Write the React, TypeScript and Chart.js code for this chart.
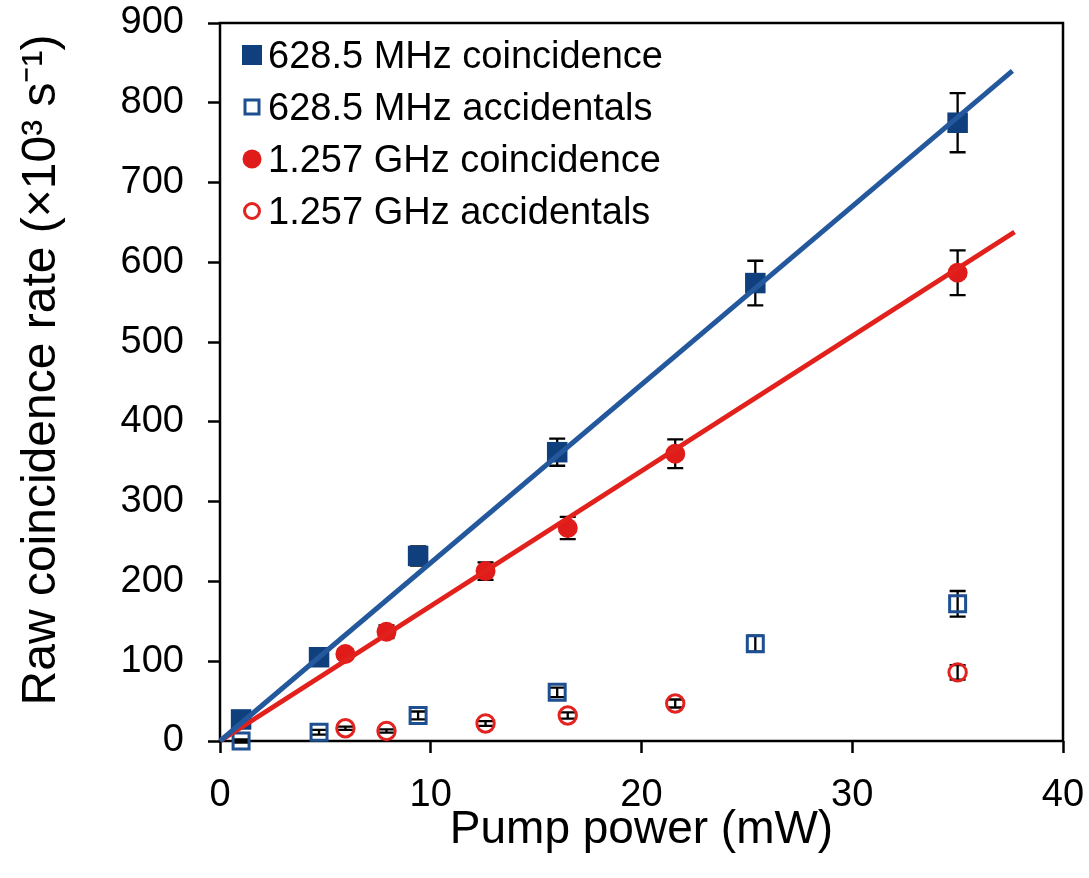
import React, { useEffect, useRef } from 'react';
import { Chart, registerables } from 'chart.js';

Chart.register(...registerables);

// ---- data ----
const xMHz = [1.0, 4.7, 9.4, 16.0, 25.4, 35.0];
const coinMHz = [27, 105, 232, 362, 574, 775];
const coinMHzErr = [3, 6, 12, 17, 28, 37];
const accMHz = [0, 11, 32, 61, 122, 172];
const accMHzErr = [2, 3, 5, 6, 10, 16];

const xGHz = [5.95, 7.9, 12.6, 16.5, 21.6, 35.0];
const coinGHz = [109, 137, 213, 267, 360, 587];
const coinGHzErr = [6, 8, 11, 14, 18, 28];
const accGHz = [16, 12.5, 22, 32, 47, 86];
const accGHzErr = [2, 2, 3, 4, 5, 9];

const fitMHzX = [0, 37.6];
const fitMHzY = [0, 840];
const fitGHzX = [0, 37.7];
const fitGHzY = [0, 638];

const seriesNames = [
  '628.5 MHz coincidence',
  '628.5 MHz accidentals',
  '1.257 GHz coincidence',
  '1.257 GHz accidentals',
];

const xTicks = [0, 10, 20, 30, 40];
const yTicks = [0, 100, 200, 300, 400, 500, 600, 700, 800, 900];

const xTitle = 'Pump power (mW)';
const yTitle = 'Raw coincidence rate (×10³ s⁻¹)';

// ---- styles ----
const BLUE_FILL = '#0f3f7d';
const BLUE_LINE = '#24589c';
const BLUE_OPEN = '#1d4f91';
const RED_FILL = '#df1c1a';
const RED_LINE = '#e2211d';
const RED_OPEN = '#e2231f';
const FONT = '"Liberation Sans", Arial, sans-serif';

const pts = (xs: number[], ys: number[]) => xs.map((x, i) => ({ x, y: ys[i] }));

const errorBarPlugin = {
  id: 'errorBars',
  beforeDatasetsDraw(chart: any) {
    const ctx = chart.ctx;
    const ys = chart.scales.y;
    ctx.save();
    ctx.strokeStyle = '#000';
    ctx.lineWidth = 2.3;
    chart.data.datasets.forEach((ds: any, di: number) => {
      if (!ds.errors) return;
      const meta = chart.getDatasetMeta(di);
      meta.data.forEach((el: any, i: number) => {
        const v = ds.data[i].y;
        const e = ds.errors[i];
        const x = el.x;
        const y1 = ys.getPixelForValue(v + e);
        const y2 = ys.getPixelForValue(v - e);
        ctx.beginPath();
        ctx.moveTo(x, y1);
        ctx.lineTo(x, y2);
        ctx.moveTo(x - 8, y1);
        ctx.lineTo(x + 8, y1);
        ctx.moveTo(x - 8, y2);
        ctx.lineTo(x + 8, y2);
        ctx.stroke();
      });
    });
    ctx.restore();
  },
};

const boxPlugin = {
  id: 'frameBox',
  beforeDatasetsDraw(chart: any) {
    const { ctx, chartArea: a } = chart;
    ctx.save();
    ctx.strokeStyle = '#000';
    ctx.lineWidth = 2.5;
    ctx.strokeRect(a.left, a.top, a.right - a.left, a.bottom - a.top);
    ctx.restore();
  },
};

const yTitlePlugin = {
  id: 'yTitleText',
  afterDraw(chart: any) {
    const ctx = chart.ctx;
    ctx.save();
    ctx.translate(42, 370);
    ctx.rotate(-Math.PI / 2);
    ctx.fillStyle = '#000';
    ctx.font = `48px ${FONT}`;
    ctx.textAlign = 'center';
    ctx.textBaseline = 'middle';
    ctx.fillText(yTitle, 0, 0);
    ctx.restore();
  },
};

const legendPlugin = {
  id: 'insideLegend',
  afterDraw(chart: any) {
    const ctx = chart.ctx;
    const items = chart.data.datasets.filter((d: any) => d.legendItem);
    ctx.save();
    items.forEach((d: any, i: number) => {
      const cx = 252;
      const cy = 55 + i * 52;
      const li = d.legendItem;
      ctx.beginPath();
      if (li.shape === 'rect') {
        const s = li.size;
        ctx.rect(cx - s / 2, cy - s / 2, s, s);
      } else {
        ctx.arc(cx, cy, li.size / 2, 0, Math.PI * 2);
      }
      if (li.filled) {
        ctx.fillStyle = li.color;
        ctx.fill();
      } else {
        ctx.fillStyle = '#fff';
        ctx.fill();
        ctx.strokeStyle = li.color;
        ctx.lineWidth = 3;
        ctx.stroke();
      }
      ctx.fillStyle = '#000';
      ctx.font = `38px ${FONT}`;
      ctx.textAlign = 'left';
      ctx.textBaseline = 'middle';
      ctx.fillText(d.label, 268, cy + 3);
    });
    ctx.restore();
  },
};

export default function App() {
  const ref = useRef<HTMLCanvasElement | null>(null);

  useEffect(() => {
    if (!ref.current) return;
    const chart = new Chart(ref.current, {
      type: 'scatter',
      data: {
        datasets: [
          {
            label: 'fit MHz',
            type: 'line',
            data: pts(fitMHzX, fitMHzY),
            borderColor: BLUE_LINE,
            borderWidth: 5,
            pointRadius: 0,
            showLine: true,
            order: 0,
            clip: false,
          } as any,
          {
            label: 'fit GHz',
            type: 'line',
            data: pts(fitGHzX, fitGHzY),
            borderColor: RED_LINE,
            borderWidth: 5,
            pointRadius: 0,
            showLine: true,
            order: 1,
            clip: false,
          } as any,
          {
            label: seriesNames[0],
            data: pts(xMHz, coinMHz),
            errors: coinMHzErr,
            pointStyle: 'rect',
            pointRadius: 14.5,
            backgroundColor: BLUE_FILL,
            borderColor: BLUE_FILL,
            borderWidth: 0,
            order: 2,
            clip: false,
            legendItem: { shape: 'rect', size: 20, filled: true, color: BLUE_FILL },
          } as any,
          {
            label: seriesNames[1],
            data: pts(xMHz, accMHz),
            errors: accMHzErr,
            pointStyle: 'rect',
            pointRadius: 11.3,
            backgroundColor: 'rgba(0,0,0,0)',
            borderColor: BLUE_OPEN,
            borderWidth: 3,
            order: 3,
            clip: false,
            legendItem: { shape: 'rect', size: 14, filled: false, color: BLUE_OPEN },
          } as any,
          {
            label: seriesNames[2],
            data: pts(xGHz, coinGHz),
            errors: coinGHzErr,
            pointStyle: 'circle',
            pointRadius: 10,
            backgroundColor: RED_FILL,
            borderColor: RED_FILL,
            borderWidth: 0,
            order: 4,
            clip: false,
            legendItem: { shape: 'circle', size: 19, filled: true, color: RED_FILL },
          } as any,
          {
            label: seriesNames[3],
            data: pts(xGHz, accGHz),
            errors: accGHzErr,
            pointStyle: 'circle',
            pointRadius: 8.7,
            backgroundColor: 'rgba(0,0,0,0)',
            borderColor: RED_OPEN,
            borderWidth: 3,
            order: 5,
            clip: false,
            legendItem: { shape: 'circle', size: 15, filled: false, color: RED_OPEN },
          } as any,
        ],
      },
      options: {
        responsive: false,
        animation: false,
        layout: { padding: { top: 23, right: 26, left: 0, bottom: 0 } },
        plugins: {
          legend: { display: false },
          tooltip: { enabled: false },
        },
        scales: {
          x: {
            type: 'linear',
            min: 0,
            max: 40,
            afterFit: (s: any) => {
              s.height = 137;
              s.paddingLeft = 0;
              s.paddingRight = 0;
              s.paddingTop = 0;
              s.paddingBottom = 0;
            },
            afterBuildTicks: (s: any) => {
              s.ticks = xTicks.map((v) => ({ value: v }));
            },
            ticks: {
              color: '#000',
              font: { family: FONT, size: 38 },
              padding: 20,
              maxRotation: 0,
            },
            grid: {
              drawOnChartArea: false,
              drawTicks: true,
              tickLength: 12,
              tickColor: '#000',
              tickWidth: 2.5,
            },
            border: { display: false },
            title: {
              display: true,
              text: xTitle,
              color: '#000',
              font: { family: FONT, size: 46 },
              padding: { top: 0, bottom: 20 },
            },
          },
          y: {
            type: 'linear',
            min: 0,
            max: 900,
            afterFit: (s: any) => {
              s.width = 220;
              s.paddingLeft = 0;
              s.paddingRight = 0;
              s.paddingTop = 0;
              s.paddingBottom = 0;
            },
            afterBuildTicks: (s: any) => {
              s.ticks = yTicks.map((v) => ({ value: v }));
            },
            ticks: {
              color: '#000',
              font: { family: FONT, size: 38 },
              padding: 24,
            },
            grid: {
              drawOnChartArea: false,
              drawTicks: true,
              tickLength: 12,
              tickColor: '#000',
              tickWidth: 2.5,
            },
            border: { display: false },
            title: { display: false },
          },
        },
      } as any,
      plugins: [boxPlugin, errorBarPlugin, legendPlugin, yTitlePlugin],
    });
    return () => chart.destroy();
  }, []);

  return (
    <div style={{ position: 'absolute', left: 0, top: 0, width: 1089, height: 878, background: '#fff' }}>
      <canvas ref={ref} width={1089} height={878} />
    </div>
  );
}
